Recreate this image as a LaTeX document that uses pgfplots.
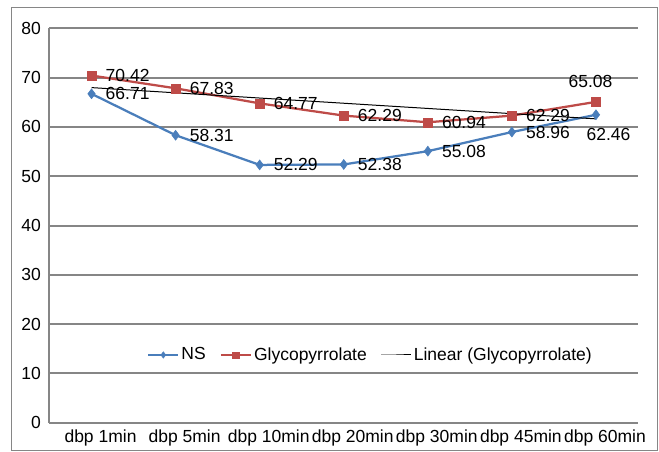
\documentclass[border=0pt]{standalone}
\usepackage{fontspec}
\setmainfont{Liberation Sans}
\usepackage{pgfplots}
\pgfplotsset{compat=1.18}
\definecolor{nsblue}{HTML}{4A7EBB}
\definecolor{glred}{HTML}{BE4B48}
\definecolor{gridgray}{HTML}{868686}
\begin{document}
\fontsize{17.5}{20}\selectfont
\begin{tikzpicture}
\path (-49.5pt,-28.3pt) rectangle (609.5pt,422.7pt);
\draw[gridgray, line width=1pt] (-37.5pt,-27.3pt) rectangle (607.5pt,415.4pt);
\begin{axis}[
  at={(0pt,0pt)}, anchor=south west, scale only axis,
  width=588.5pt, height=394.4pt,
  xmin=-0.5, xmax=6.5, ymin=0, ymax=80,
  xtick={0,...,6},
  xticklabels={dbp 1min, dbp 5min, dbp 10min, dbp 20min, dbp 30min, dbp 45min, dbp 60min},
  ytick={0,10,...,80},
  axis x line*=bottom, axis y line*=left,
  axis line style={-, gridgray, line width=2pt},
  ymajorgrids, grid style={gridgray, line width=2pt},
  major tick length=0pt,
  /pgf/number format/assume math mode=true,
  tick label style={font=\fontsize{17.5}{20}\selectfont},
  yticklabel style={anchor=east, inner sep=0pt, xshift=-8.5pt},
  xticklabel style={anchor=north, inner sep=0pt, yshift=-7pt, xshift=9pt},
  legend style={at={(0.1657,0.1717)}, anchor=west, draw=none, fill=none, inner sep=0pt,
    legend columns=3, font=\fontsize{17.5}{20}\selectfont,
    /tikz/every even column/.append style={column sep=12pt},
    nodes={inner sep=2pt}},
  legend image code/.code={\draw[mark repeat=2, mark phase=2, #1, mark size=3.2pt] plot coordinates {(0pt,0pt) (15pt,0pt) (30pt,0pt)};},
  clip=false,
]
\addplot[nsblue, line width=2.25pt, mark=diamond*, mark size=5pt, mark options={fill=nsblue, line width=0.5pt}]
  coordinates {(0,66.71) (1,58.31) (2,52.29) (3,52.38) (4,55.08) (5,58.96) (6,62.46)};
\addlegendentry{NS}
\addplot[glred, line width=2.25pt, mark=square*, mark size=4.5pt, mark options={fill=glred, line width=0.5pt}]
  coordinates {(0,70.42) (1,67.83) (2,64.77) (3,62.29) (4,60.94) (5,62.29) (6,65.08)};
\addlegendentry{Glycopyrrolate}
\addplot[black, line width=1pt, mark=none]
  coordinates {(0,67.97) (6,61.63)};
\addlegendentry{Linear (Glycopyrrolate)}
% data labels
\addplot[forget plot, draw=none, mark=none, nodes near coords, point meta=explicit symbolic,
  every node near coord/.append style={anchor=west, inner sep=0pt, xshift=14pt, text=black, font=\fontsize{17.5}{20}\selectfont}]
  coordinates {(0,66.71) [66.71] (1,58.31) [58.31] (2,52.29) [52.29] (3,52.38) [52.38] (4,55.08) [55.08] (5,58.96) [58.96]
               (0,70.42) [70.42] (1,67.83) [67.83] (2,64.77) [64.77] (3,62.29) [62.29] (4,60.94) [60.94] (5,62.29) [62.29]};
\addplot[forget plot, draw=none, mark=none, nodes near coords, point meta=explicit symbolic,
  every node near coord/.append style={anchor=center, inner sep=0pt, xshift=-5.5pt, yshift=20pt, text=black, font=\fontsize{17.5}{20}\selectfont}]
  coordinates {(6,65.08) [65.08]};
\addplot[forget plot, draw=none, mark=none, nodes near coords, point meta=explicit symbolic,
  every node near coord/.append style={anchor=center, inner sep=0pt, xshift=12.5pt, yshift=-20pt, text=black, font=\fontsize{17.5}{20}\selectfont}]
  coordinates {(6,62.46) [62.46]};
\end{axis}
\end{tikzpicture}
\end{document}
